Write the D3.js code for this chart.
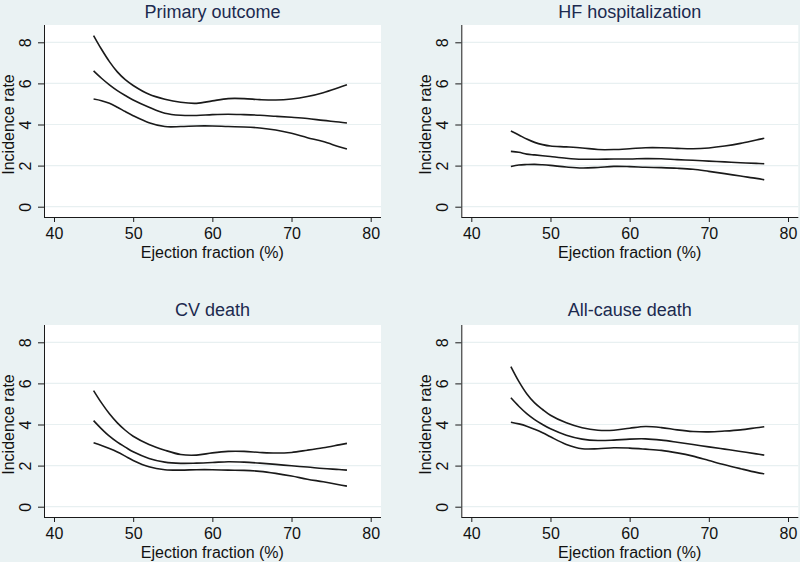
<!DOCTYPE html>
<html><head><meta charset="utf-8">
<script src="https://cdn.jsdelivr.net/npm/d3@7"></script>
<style>
html,body{margin:0;padding:0;background:#eaf2f3;}
svg{display:block;font-family:"Liberation Sans",Arial,Helvetica,sans-serif;}
</style></head>
<body>
<svg id="chart" width="800" height="562"></svg>
<script>
// ---- data ----
const panelTitles = ["Primary outcome", "HF hospitalization", "CV death", "All-cause death"];
const efValues = [45,46,47,48,49,50,52,54,56,58,60,62,64,66,68,70,72,74,76,77];
const xTicks = [40,50,60,70,80];
const yTicks = [0,2,4,6,8];
const xLabel = "Ejection fraction (%)";
const yLabel = "Incidence rate";

const primaryUpper = [8.33,7.66,7.06,6.56,6.18,5.90,5.47,5.23,5.08,5.03,5.15,5.26,5.26,5.21,5.19,5.24,5.36,5.55,5.80,5.93];
const primaryMid   = [6.61,6.25,5.93,5.65,5.41,5.19,4.84,4.55,4.45,4.44,4.48,4.50,4.48,4.45,4.40,4.35,4.29,4.20,4.12,4.07];
const primaryLower = [5.24,5.16,5.03,4.84,4.63,4.43,4.09,3.90,3.90,3.93,3.93,3.90,3.88,3.83,3.73,3.57,3.36,3.17,2.92,2.81];

const hfUpper = [3.68,3.49,3.29,3.13,3.02,2.95,2.91,2.86,2.78,2.78,2.82,2.87,2.87,2.84,2.82,2.86,2.95,3.08,3.25,3.33];
const hfMid   = [2.69,2.65,2.56,2.52,2.48,2.44,2.36,2.31,2.31,2.32,2.32,2.34,2.33,2.29,2.26,2.22,2.18,2.14,2.11,2.09];
const hfLower = [1.96,2.03,2.05,2.06,2.04,2.01,1.93,1.88,1.91,1.96,1.95,1.92,1.90,1.87,1.82,1.72,1.61,1.49,1.38,1.31];

const cvUpper = [5.65,5.05,4.52,4.08,3.72,3.43,3.03,2.75,2.54,2.51,2.62,2.69,2.69,2.64,2.61,2.64,2.75,2.87,3.01,3.08];
const cvMid   = [4.19,3.79,3.43,3.14,2.90,2.67,2.35,2.17,2.11,2.12,2.15,2.19,2.17,2.12,2.06,1.99,1.93,1.86,1.81,1.78];
const cvLower = [3.11,2.98,2.83,2.66,2.46,2.25,1.94,1.80,1.78,1.80,1.80,1.78,1.77,1.72,1.62,1.49,1.34,1.21,1.07,1.00];

const acUpper = [6.82,6.10,5.50,5.05,4.73,4.45,4.08,3.84,3.72,3.72,3.82,3.90,3.85,3.74,3.66,3.64,3.68,3.74,3.84,3.89];
const acMid   = [5.30,4.89,4.53,4.24,4.00,3.79,3.48,3.29,3.22,3.24,3.29,3.30,3.24,3.14,3.03,2.91,2.80,2.69,2.57,2.51];
const acLower = [4.11,4.03,3.92,3.77,3.60,3.40,3.03,2.82,2.82,2.87,2.85,2.80,2.74,2.62,2.46,2.25,2.04,1.85,1.67,1.60];

const panelSeries = [
  [primaryUpper, primaryMid, primaryLower],
  [hfUpper, hfMid, hfLower],
  [cvUpper, cvMid, cvLower],
  [acUpper, acMid, acLower]
];

// ---- drawing ----
const svg = d3.select("#chart");
svg.append("rect").attr("width",800).attr("height",562).attr("fill","#eaf2f3");

const plotW = 337, plotH = 192;
const titleY = [-7.5, -9];

panelSeries.forEach((series, i) => {
  const col = i % 2, row = Math.floor(i / 2);
  const left = 44 + col * 417.3;
  const top = 25 + row * 300;
  const g = svg.append("g").attr("transform", `translate(${left},${top})`);

  const x = d3.scaleLinear().domain([40,80]).range([10, 326.7]);
  const y = d3.scaleLinear().domain([0,8]).range([181.7, 17.3]);

  g.append("rect").attr("width", plotW).attr("height", plotH).attr("fill", "#ffffff");

  // gridlines
  g.selectAll(".grid").data(yTicks).enter().append("line")
    .attr("x1", 0).attr("x2", plotW)
    .attr("y1", d => y(d)).attr("y2", d => y(d))
    .attr("stroke", "#e8f0f1").attr("stroke-width", 1.2);

  // y axis
  const yAxis = g.append("g").call(d3.axisLeft(y).tickValues(yTicks).tickSize(6).tickSizeOuter(0).tickFormat(d3.format("d")));
  yAxis.select(".domain").attr("stroke", "#1a1a1a").attr("d", `M0.5,0V${plotH}`);
  yAxis.selectAll(".tick line").attr("stroke", "#1a1a1a");
  yAxis.selectAll(".tick text")
    .attr("x", 0).attr("y", 0).attr("dy", null)
    .attr("transform", "translate(-13,0) rotate(-90)")
    .attr("text-anchor", "middle")
    .attr("font-size", 16).attr("fill", "#111");

  // x axis
  const xAxis = g.append("g").attr("transform", `translate(0,${plotH})`)
    .call(d3.axisBottom(x).tickValues(xTicks).tickSize(5).tickSizeOuter(0));
  xAxis.select(".domain").attr("stroke", "#1a1a1a").attr("d", `M0,0.5H${plotW}`);
  xAxis.selectAll(".tick line").attr("stroke", "#1a1a1a");
  xAxis.selectAll(".tick text").attr("dy", null).attr("y", 22)
    .attr("font-size", 16).attr("fill", "#111");

  // axis titles
  g.append("text").attr("x", (x(40)+x(80))/2).attr("y", plotH + 41)
    .attr("text-anchor", "middle").attr("font-size", 16).attr("fill", "#111").text(xLabel);
  g.append("text").attr("transform", `translate(-30,${(y(0)+y(8))/2}) rotate(-90)`)
    .attr("text-anchor", "middle").attr("font-size", 16).attr("fill", "#111").text(yLabel);

  // panel title
  g.append("text").attr("x", plotW/2).attr("y", titleY[row])
    .attr("text-anchor", "middle").attr("font-size", 18).attr("fill", "#1c2a4f").text(panelTitles[i]);

  // lines
  const line = d3.line().x(d => x(d[0])).y(d => y(d[1])).curve(d3.curveCatmullRom.alpha(0.5));
  series.forEach(vals => {
    g.append("path").datum(efValues.map((e, k) => [e, vals[k]]))
      .attr("d", line).attr("fill", "none").attr("stroke", "#1a1a1a").attr("stroke-width", 1.6);
  });
});
</script>
</body></html>
